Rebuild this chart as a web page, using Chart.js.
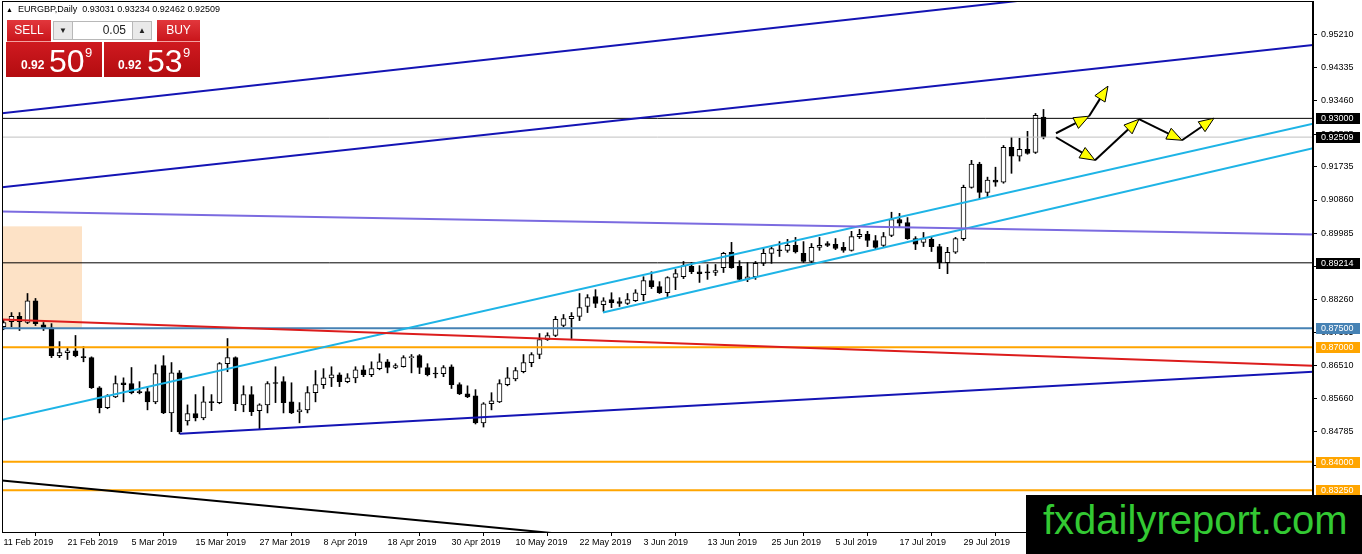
<!DOCTYPE html>
<html lang="en">
<head>
<meta charset="UTF-8">
<title>EURGBP, Daily</title>
<script src="https://cdn.jsdelivr.net/npm/chart.js"></script>
<style>
    body { margin: 0; background: #fff; font-family: "Liberation Sans", Arial, sans-serif; }
    #wrap { position: relative; width: 1362px; height: 554px; overflow: hidden; }
    #chart { position: absolute; left: 0; top: 0; }
    #header { position: absolute; left: 6px; top: 4px; font-size: 9px; color: #000; white-space: pre; }
    #header .tri { font-size: 7px; margin-right: 5px; }
    #panel { position: absolute; left: 6px; top: 20px; width: 194px; height: 57px; }
    #panel div { position: absolute; box-sizing: border-box; }
    .btn { top: 0; height: 22px; color: #fff; font-size: 12px; text-align: center; line-height: 21px;
           background: linear-gradient(#e2373c, #c9151b); border-bottom: 1px solid #f3a0a0; }
    .spin { top: 1px; height: 19px; background: #e9e9e9; border: 1px solid #b8b8b8; font-size: 8px; text-align: center; line-height: 17px; color: #222; }
    .field { top: 1px; height: 19px; background: #fff; border: 1px solid #b8b8b8; font-size: 12px; text-align: right; padding-right: 6px; line-height: 17px; color: #222; }
    .price { top: 22px; height: 35px; width: 96px; background: linear-gradient(#cf1a20, #b30c10); color: #fff; }
    .price span { position: absolute; }
    .small { font-size: 12px; font-weight: bold; top: 16px; }
    .big { font-size: 32px; top: 1px; }
    .sup { font-size: 13px; top: 3px; }
    #mark { position: absolute; left: 1026px; top: 495px; width: 336px; height: 59px; background: #000;
            color: #33c933; font-size: 40px; line-height: 40px; padding: 5px 0 0 17px; box-sizing: border-box; }
</style>
</head>
<body>
<div id="wrap">
    <canvas id="chart" width="1362" height="554"></canvas>
    <div id="header"><span class="tri">&#9650;</span>EURGBP,Daily  0.93031 0.93234 0.92462 0.92509</div>
    <div id="panel">
        <div class="btn" style="left:1px;width:44px">SELL</div>
        <div class="spin" style="left:47px;width:20px">&#9660;</div>
        <div class="field" style="left:66px;width:61px">0.05</div>
        <div class="spin" style="left:126px;width:20px">&#9650;</div>
        <div class="btn" style="left:151px;width:43px">BUY</div>
        <div class="price" style="left:0">
            <span class="small" style="left:15px">0.92</span>
            <span class="big" style="left:43px">50</span>
            <span class="sup" style="left:79px">9</span>
        </div>
        <div class="price" style="left:98px">
            <span class="small" style="left:14px">0.92</span>
            <span class="big" style="left:43px">53</span>
            <span class="sup" style="left:79px">9</span>
        </div>
    </div>
    <div id="mark">fxdailyreport.com</div>
</div>

<script>
// daily bars, 11 Feb 2019 .. 12 Aug 2019 (bar index = x)
const opens = [
    0.8754, 0.8767, 0.8781, 0.8765, 0.8822, 0.8759, 0.8751, 0.8678, 0.8686, 0.8691,
    0.8675, 0.8673, 0.8594, 0.8542, 0.8570, 0.8607, 0.8605, 0.8584, 0.8584, 0.8557,
    0.8652, 0.8528, 0.8633, 0.8507, 0.8526, 0.8515, 0.8557, 0.8555, 0.8657, 0.8673,
    0.8549, 0.8576, 0.8534, 0.8549, 0.8607, 0.8610, 0.8557, 0.8531, 0.8536, 0.8581,
    0.8602, 0.8620, 0.8628, 0.8610, 0.8620, 0.8641, 0.8628, 0.8644, 0.8662, 0.8647,
    0.8649, 0.8673, 0.8678, 0.8647, 0.8631, 0.8631, 0.8649, 0.8602, 0.8578, 0.8573,
    0.8502, 0.8552, 0.8557, 0.8602, 0.8617, 0.8636, 0.8660, 0.8681, 0.8720, 0.8731,
    0.8757, 0.8775, 0.8781, 0.8807, 0.8833, 0.8812, 0.8825, 0.8820, 0.8815, 0.8822,
    0.8838, 0.8875, 0.8859, 0.8843, 0.8883, 0.8885, 0.8912, 0.8898, 0.8896, 0.8896,
    0.8909, 0.8949, 0.8912, 0.8878, 0.8885, 0.8920, 0.8946, 0.8954, 0.8954, 0.8967,
    0.8946, 0.8925, 0.8962, 0.8972, 0.8970, 0.8962, 0.8954, 0.8990, 0.8996, 0.8980,
    0.8967, 0.8993, 0.9035, 0.9027, 0.8985, 0.8975, 0.8983, 0.8964, 0.8922, 0.8949,
    0.8985, 0.9119, 0.9180, 0.9106, 0.9138, 0.9133, 0.9224, 0.9201, 0.9219, 0.9211,
    0.93031
];
const highs = [
    0.8773, 0.8791, 0.8791, 0.8841, 0.8828, 0.8765, 0.8762, 0.8715, 0.8699, 0.8731,
    0.8702, 0.8675, 0.8597, 0.8576, 0.8625, 0.8620, 0.8647, 0.8610, 0.8597, 0.8654,
    0.8678, 0.8660, 0.8639, 0.8549, 0.8576, 0.8597, 0.8576, 0.8660, 0.8723, 0.8675,
    0.8599, 0.8597, 0.8552, 0.8610, 0.8649, 0.8623, 0.8607, 0.8555, 0.8597, 0.8639,
    0.8644, 0.8649, 0.8633, 0.8631, 0.8649, 0.8652, 0.8662, 0.8683, 0.8668, 0.8657,
    0.8678, 0.8681, 0.8681, 0.8657, 0.8647, 0.8652, 0.8654, 0.8607, 0.8599, 0.8589,
    0.8555, 0.8581, 0.8615, 0.8647, 0.8647, 0.8681, 0.8686, 0.8736, 0.8738, 0.8781,
    0.8786, 0.8791, 0.8841, 0.8838, 0.8851, 0.8830, 0.8843, 0.8830, 0.8841, 0.8851,
    0.8885, 0.8898, 0.8872, 0.8885, 0.8904, 0.8925, 0.8922, 0.8914, 0.8917, 0.8917,
    0.8949, 0.8975, 0.8927, 0.8922, 0.8925, 0.8962, 0.8964, 0.8977, 0.8983, 0.8988,
    0.8977, 0.8972, 0.8988, 0.8977, 0.8985, 0.8975, 0.9004, 0.9009, 0.9004, 0.8993,
    0.9001, 0.9054, 0.9051, 0.9040, 0.8990, 0.9001, 0.8990, 0.8970, 0.8962, 0.8988,
    0.9125, 0.9190, 0.9185, 0.9146, 0.9172, 0.9229, 0.9250, 0.9248, 0.9266, 0.9313,
    0.93234
];
const lows = [
    0.8746, 0.8754, 0.8744, 0.8762, 0.8757, 0.8744, 0.8673, 0.8673, 0.8668, 0.8675,
    0.8662, 0.8592, 0.8528, 0.8539, 0.8568, 0.8557, 0.8578, 0.8578, 0.8536, 0.8552,
    0.8526, 0.8479, 0.8473, 0.8496, 0.8507, 0.8510, 0.8534, 0.8552, 0.8636, 0.8534,
    0.8531, 0.8521, 0.8486, 0.8528, 0.8555, 0.8528, 0.8526, 0.8502, 0.8528, 0.8557,
    0.8592, 0.8597, 0.8597, 0.8607, 0.8607, 0.8623, 0.8623, 0.8641, 0.8633, 0.8644,
    0.8648, 0.8633, 0.8631, 0.8625, 0.8620, 0.8623, 0.8592, 0.8576, 0.8568, 0.8499,
    0.8491, 0.8536, 0.8555, 0.8599, 0.8612, 0.8633, 0.8649, 0.8670, 0.8718, 0.8728,
    0.8754, 0.8723, 0.8770, 0.8791, 0.8804, 0.8794, 0.8804, 0.8807, 0.8812, 0.8820,
    0.8822, 0.8854, 0.8841, 0.8830, 0.8851, 0.8880, 0.8893, 0.8870, 0.8878, 0.8888,
    0.8896, 0.8907, 0.8875, 0.8872, 0.8878, 0.8914, 0.8920, 0.8938, 0.8949, 0.8947,
    0.8922, 0.8922, 0.8954, 0.8964, 0.8956, 0.8949, 0.8952, 0.8985, 0.8964, 0.8956,
    0.8964, 0.8990, 0.9014, 0.8983, 0.8956, 0.8964, 0.8951, 0.8906, 0.8893, 0.8946,
    0.8980, 0.9117, 0.9088, 0.9093, 0.9122, 0.9130, 0.9156, 0.9188, 0.9206, 0.9208,
    0.92462
];
const closes = [
    0.8765, 0.8781, 0.8767, 0.8822, 0.8762, 0.8751, 0.8678, 0.8686, 0.8691, 0.8678,
    0.8673, 0.8594, 0.8542, 0.8573, 0.8605, 0.8602, 0.8581, 0.8581, 0.8557, 0.8631,
    0.8528, 0.8633, 0.8478, 0.8526, 0.8515, 0.8557, 0.8555, 0.8657, 0.8673, 0.8552,
    0.8576, 0.8531, 0.8549, 0.8605, 0.8605, 0.8555, 0.8528, 0.8536, 0.8581, 0.8602,
    0.8620, 0.8628, 0.8610, 0.8620, 0.8641, 0.8628, 0.8644, 0.8662, 0.8647, 0.8652,
    0.8673, 0.8675, 0.8647, 0.8628, 0.8630, 0.8647, 0.8602, 0.8578, 0.8570, 0.8502,
    0.8552, 0.8560, 0.8605, 0.8620, 0.8639, 0.8660, 0.8681, 0.8720, 0.8731, 0.8773,
    0.8775, 0.8781, 0.8804, 0.8830, 0.8815, 0.8822, 0.8817, 0.8815, 0.8825, 0.8843,
    0.8875, 0.8859, 0.8843, 0.8883, 0.8893, 0.8914, 0.8898, 0.8893, 0.8895, 0.8901,
    0.8946, 0.8909, 0.8878, 0.8885, 0.8920, 0.8946, 0.8959, 0.8953, 0.8967, 0.8950,
    0.8925, 0.8962, 0.8967, 0.8967, 0.8959, 0.8954, 0.8990, 0.8996, 0.8980, 0.8962,
    0.8990, 0.9035, 0.9025, 0.8985, 0.8970, 0.8985, 0.8964, 0.8922, 0.8949, 0.8985,
    0.9119, 0.9180, 0.9106, 0.9138, 0.9133, 0.9224, 0.9201, 0.9219, 0.9208, 0.9308,
    0.92509
];

const xTickBars = [0, 8, 16, 24, 32, 40, 48, 56, 64, 72, 80, 88, 96, 104, 112, 120];
const xTickLabels = ['11 Feb 2019', '21 Feb 2019', '5 Mar 2019', '15 Mar 2019', '27 Mar 2019', '8 Apr 2019',
    '18 Apr 2019', '30 Apr 2019', '10 May 2019', '22 May 2019', '3 Jun 2019', '13 Jun 2019',
    '25 Jun 2019', '5 Jul 2019', '17 Jul 2019', '29 Jul 2019'];
const yTicks = [0.95210, 0.94335, 0.93460, 0.92585, 0.91735, 0.90860, 0.89985, 0.89110,
    0.88260, 0.87385, 0.86510, 0.85660, 0.84785, 0.83910];

// drawn objects: trend lines as [barIndex, price] pairs
const trendLines = [
    { pts: [[-0.19, 0.93135], [128.31, 0.96113]], color: '#1414b4', w: 2 },
    { pts: [[-0.19, 0.91192], [163.69, 0.94921]], color: '#1414b4', w: 2 },
    { pts: [[-0.19, 0.90562], [163.69, 0.89958]], color: '#7b6be0', w: 2 },
    { pts: [[-0.19, 0.87726], [163.69, 0.86518]], color: '#dc1c1c', w: 2 },
    { pts: [[22.06, 0.84732], [163.69, 0.86360]], color: '#1414b4', w: 2 },
    { pts: [[-0.19, 0.83506], [74.56, 0.82012]], color: '#000000', w: 2 },
    { pts: [[-0.19, 0.85100], [163.69, 0.92857]], color: '#1eb4e6', w: 2 },
    { pts: [[74.94, 0.87910], [163.69, 0.92216]], color: '#1eb4e6', w: 2 }
];
const levelPrices = [0.93000, 0.92509, 0.89214, 0.87500, 0.87000, 0.84000, 0.83250];
const levelColors = ['#000000', '#c0c0c0', '#000000', '#4682b4', '#ffa500', '#ffa500', '#ffa500'];
const levelWidths = [1, 1, 1, 2, 2, 2, 2];
const levelBoxColors = ['#000000', '#000000', '#000000', '#4682b4', '#ffa500', '#ffa500', '#ffa500'];
const zoneBox = { x0: -1, x1: 9.81, top: 0.9017, bottom: 0.8751 };
const arrowPaths = [
    [[131.56, 0.92610], [135.69, 0.93057], [138.06, 0.93844]],
    [[131.56, 0.92505], [136.44, 0.91901], [141.94, 0.92978], [147.31, 0.92426], [151.31, 0.93004]]
];

const X_MIN = -0.1875, X_MAX = 163.6875;
const Y_MIN = 0.82159, Y_MAX = 0.96076;

const wicks = [], bodies = [], bodyColors = [];
for (let i = 0; i < opens.length; i++) {
    wicks.push({ x: i, y: [lows[i], highs[i]] });
    bodies.push({ x: i, y: [opens[i], closes[i]] });
    bodyColors.push(closes[i] >= opens[i] ? '#ffffff' : '#000000');
}

const datasets = [];
trendLines.forEach(t => datasets.push({
    type: 'line', data: t.pts.map(p => ({ x: p[0], y: p[1] })),
    borderColor: t.color, borderWidth: t.w, pointRadius: 0, order: 0
}));
levelPrices.forEach((p, i) => datasets.push({
    type: 'line', data: [{ x: X_MIN - 1, y: p }, { x: X_MAX + 1, y: p }],
    borderColor: levelColors[i], borderWidth: levelWidths[i], pointRadius: 0, order: 0
}));
datasets.push({
    type: 'bar', data: bodies, grouped: false, barThickness: 5, minBarLength: 1,
    backgroundColor: bodyColors, borderColor: '#000', borderWidth: 1, borderSkipped: false, order: 1
});
datasets.push({
    type: 'bar', data: wicks, grouped: false, barThickness: 1,
    backgroundColor: '#000', borderWidth: 0, order: 2
});

function noPad(s) {
    s.paddingTop = 0;
    s.paddingBottom = 0;
    s.paddingLeft = 0;
    s.paddingRight = 0;
}

const drawings = {
    id: 'drawings',
    beforeDatasetsDraw(chart) {
        const { ctx, scales: { x, y }, chartArea: a } = chart;
        ctx.save();
        ctx.beginPath();
        ctx.rect(a.left, a.top, a.width, a.height);
        ctx.clip();
        const x0 = x.getPixelForValue(zoneBox.x0), x1 = x.getPixelForValue(zoneBox.x1);
        const y0 = y.getPixelForValue(zoneBox.top), y1 = y.getPixelForValue(zoneBox.bottom);
        ctx.fillStyle = '#fde2c6';
        ctx.fillRect(x0, y0, x1 - x0, y1 - y0);
        ctx.restore();
    },
    afterDatasetsDraw(chart) {
        const { ctx, scales: { x, y } } = chart;
        ctx.save();
        arrowPaths.forEach(path => {
            for (let i = 1; i < path.length; i++) {
                const ax = x.getPixelForValue(path[i - 1][0]), ay = y.getPixelForValue(path[i - 1][1]);
                const bx = x.getPixelForValue(path[i][0]), by = y.getPixelForValue(path[i][1]);
                const ang = Math.atan2(by - ay, bx - ax);
                const len = 15, half = 6;
                const cx = bx - len * Math.cos(ang), cy = by - len * Math.sin(ang);
                ctx.strokeStyle = '#000';
                ctx.lineWidth = 2;
                ctx.beginPath();
                ctx.moveTo(ax, ay);
                ctx.lineTo(cx, cy);
                ctx.stroke();
                ctx.beginPath();
                ctx.moveTo(bx, by);
                ctx.lineTo(cx + half * Math.sin(ang), cy - half * Math.cos(ang));
                ctx.lineTo(cx - half * Math.sin(ang), cy + half * Math.cos(ang));
                ctx.closePath();
                ctx.fillStyle = '#ffff00';
                ctx.fill();
                ctx.lineWidth = 1;
                ctx.stroke();
            }
        });
        ctx.restore();
    },
    afterDraw(chart) {
        const { ctx, scales: { y }, chartArea: a } = chart;
        ctx.save();
        ctx.strokeStyle = '#000';
        ctx.lineWidth = 1;
        ctx.strokeRect(a.left + 0.5, a.top + 0.5, a.width - 1, a.height);
        ctx.font = '9px "Liberation Sans", Arial, sans-serif';
        ctx.textBaseline = 'middle';
        levelPrices.forEach((p, i) => {
            const py = y.getPixelForValue(p);
            ctx.fillStyle = levelBoxColors[i];
            ctx.fillRect(a.right + 3, Math.round(py) - 5, 44, 11);
            ctx.fillStyle = '#fff';
            ctx.fillText(p.toFixed(5), a.right + 8, Math.round(py) + 0.5);
        });
        ctx.restore();
    }
};

new Chart(document.getElementById('chart'), {
    type: 'bar',
    data: { datasets: datasets },
    options: {
        responsive: false,
        animation: false,
        events: [],
        layout: { padding: { left: 2, top: 1, right: 0, bottom: 0 } },
        plugins: { legend: { display: false }, tooltip: { enabled: false } },
        scales: {
            x: {
                type: 'linear', min: X_MIN, max: X_MAX, offset: false, bounds: 'data',
                afterBuildTicks: s => { s.ticks = xTickBars.map(v => ({ value: v })); },
                afterFit: s => { s.height = 22; noPad(s); },
                grid: { drawOnChartArea: false, color: '#000', tickLength: 4 },
                border: { color: '#000' },
                ticks: {
                    autoSkip: false, maxRotation: 0, align: 'start', padding: 1, color: '#000',
                    font: { family: '"Liberation Sans", Arial, sans-serif', size: 9 },
                    callback: v => xTickLabels[xTickBars.indexOf(v)]
                }
            },
            y: {
                type: 'linear', position: 'right', min: Y_MIN, max: Y_MAX, bounds: 'data',
                afterBuildTicks: s => { s.ticks = yTicks.map(v => ({ value: v })); },
                afterFit: s => { s.width = 49; noPad(s); },
                grid: { drawOnChartArea: false, color: '#000', tickLength: 4 },
                border: { color: '#000' },
                ticks: {
                    padding: 4, color: '#000',
                    font: { family: '"Liberation Sans", Arial, sans-serif', size: 9 },
                    callback: v => v.toFixed(5)
                }
            }
        }
    },
    plugins: [drawings]
});
</script>
</body>
</html>
